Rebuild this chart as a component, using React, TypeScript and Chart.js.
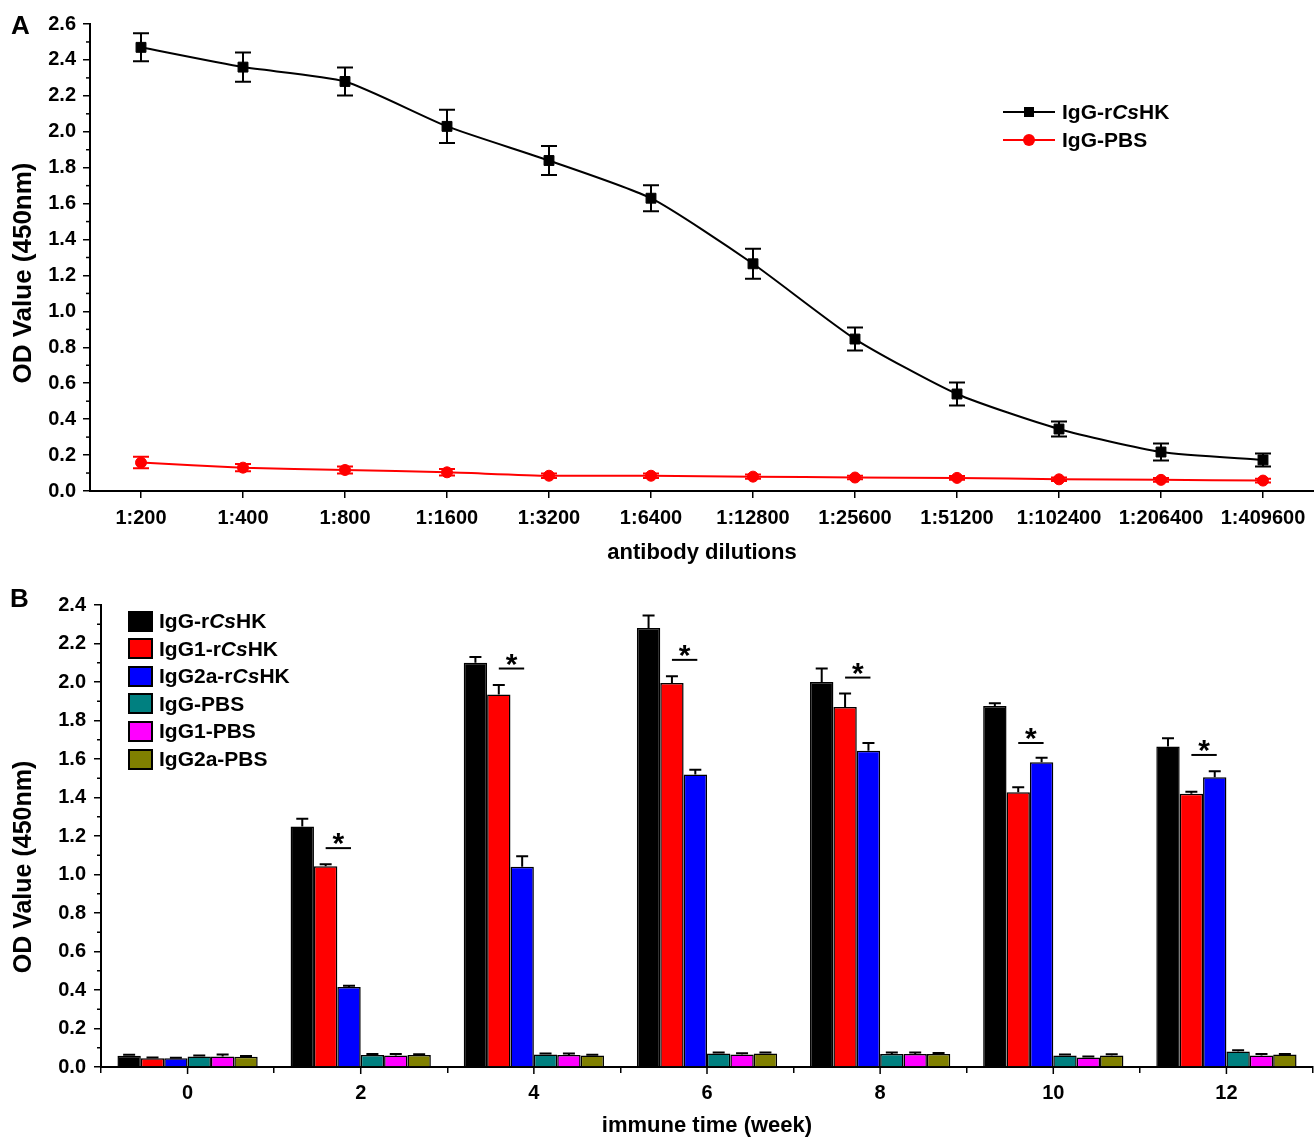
import React, { useEffect, useRef } from 'react';
import { Chart, registerables } from 'chart.js';

Chart.register(...registerables);

const FONT = "'Liberation Sans', Arial, Helvetica, sans-serif";

// ---------- Panel A data ----------
const dilutions = ['1:200', '1:400', '1:800', '1:1600', '1:3200', '1:6400', '1:12800', '1:25600', '1:51200', '1:102400', '1:206400', '1:409600'];
const igGrCsHK = [2.47, 2.36, 2.28, 2.03, 1.84, 1.63, 1.265, 0.846, 0.54, 0.345, 0.217, 0.173];
const igGrCsHKErr = [0.078, 0.081, 0.078, 0.092, 0.081, 0.072, 0.084, 0.064, 0.064, 0.042, 0.047, 0.036];
const igGPBS = [0.158, 0.13, 0.117, 0.104, 0.085, 0.085, 0.08, 0.075, 0.073, 0.065, 0.062, 0.058];
const igGPBSErr = [0.032, 0.02, 0.02, 0.018, 0.012, 0.012, 0.012, 0.01, 0.01, 0.01, 0.01, 0.01];
const lineNamesA = ['IgG-rCsHK', 'IgG-PBS'];
const lineColorsA = ['#000000', '#ff0000'];

// ---------- Panel B data ----------
const weeks = ['0', '2', '4', '6', '8', '10', '12'];
const barNames = ['IgG-rCsHK', 'IgG1-rCsHK', 'IgG2a-rCsHK', 'IgG-PBS', 'IgG1-PBS', 'IgG2a-PBS'];
const barColors = ['#000000', '#ff0000', '#0000ff', '#008080', '#ff00ff', '#808000'];
const bIgG = [0.058, 1.25, 2.1, 2.28, 2.0, 1.875, 1.665];
const bIgGErr = [0.005, 0.04, 0.03, 0.065, 0.07, 0.015, 0.043];
const bIgG1 = [0.045, 1.043, 1.935, 1.995, 1.87, 1.427, 1.42];
const bIgG1Err = [0.004, 0.01, 0.05, 0.035, 0.07, 0.026, 0.01];
const bIgG2a = [0.045, 0.416, 1.04, 1.519, 1.643, 1.583, 1.505];
const bIgG2aErr = [0.003, 0.006, 0.055, 0.025, 0.04, 0.023, 0.031];
const bIgGPBS = [0.055, 0.062, 0.065, 0.07, 0.067, 0.06, 0.08];
const bIgGPBSErr = [0.005, 0.005, 0.005, 0.005, 0.008, 0.005, 0.007];
const bIgG1PBS = [0.055, 0.06, 0.062, 0.065, 0.067, 0.05, 0.06];
const bIgG1PBSErr = [0.01, 0.008, 0.008, 0.006, 0.008, 0.005, 0.007];
const bIgG2aPBS = [0.053, 0.062, 0.06, 0.07, 0.067, 0.06, 0.065];
const bIgG2aPBSErr = [0.004, 0.004, 0.004, 0.005, 0.006, 0.006, 0.003];
const barValues = [bIgG, bIgG1, bIgG2a, bIgGPBS, bIgG1PBS, bIgG2aPBS];
const barErrors = [bIgGErr, bIgG1Err, bIgG2aErr, bIgGPBSErr, bIgG1PBSErr, bIgG2aPBSErr];
// significance bracket level (OD value) between IgG1 and IgG2a, per week
const sigLevels: (number | null)[] = [null, 1.137, 2.07, 2.115, 2.023, 1.683, 1.621];

// ---------- plugins ----------
const errorBarPlugin = {
  id: 'errorBars',
  afterDatasetsDraw(chart: any, _args: any, opts: any) {
    const { ctx } = chart;
    const y = chart.scales.y;
    chart.data.datasets.forEach((ds: any, di: number) => {
      const errs = ds.errors;
      if (!errs) return;
      const meta = chart.getDatasetMeta(di);
      ctx.save();
      ctx.strokeStyle = ds.errorColor || '#000';
      ctx.lineWidth = opts.lineWidth || 2;
      meta.data.forEach((el: any, i: number) => {
        const v = ds.data[i];
        const e = errs[i];
        const x = el.x;
        const yTop = y.getPixelForValue(v + e);
        const yBot = opts.upOnly ? y.getPixelForValue(v) : y.getPixelForValue(v - e);
        const half = opts.cap / 2;
        ctx.beginPath();
        ctx.moveTo(x, yTop);
        ctx.lineTo(x, yBot);
        ctx.moveTo(x - half, yTop);
        ctx.lineTo(x + half, yTop);
        if (!opts.upOnly) {
          ctx.moveTo(x - half, yBot);
          ctx.lineTo(x + half, yBot);
        }
        ctx.stroke();
      });
      ctx.restore();
    });
  },
};

const extraTicksPlugin = {
  id: 'extraTicks',
  afterDraw(chart: any, _args: any, opts: any) {
    const { ctx } = chart;
    const y = chart.scales.y;
    const x = chart.scales.x;
    ctx.save();
    ctx.strokeStyle = '#000';
    ctx.lineWidth = 1.5;
    for (let v = opts.minorStep; v < y.max; v += opts.minorStep * 2) {
      const py = y.getPixelForValue(v);
      ctx.beginPath();
      ctx.moveTo(y.right, py);
      ctx.lineTo(y.right - opts.minorLen, py);
      ctx.stroke();
    }
    if (opts.xCenters) {
      x.ticks.forEach((_t: any, i: number) => {
        const px = x.getPixelForTick(i);
        ctx.beginPath();
        ctx.moveTo(px, x.top);
        ctx.lineTo(px, x.top + opts.centerLen);
        ctx.stroke();
      });
    }
    ctx.restore();
  },
};

const sigPlugin = {
  id: 'sig',
  afterDatasetsDraw(chart: any, _args: any, opts: any) {
    const { ctx } = chart;
    const y = chart.scales.y;
    const mA = chart.getDatasetMeta(1);
    const mB = chart.getDatasetMeta(2);
    ctx.save();
    ctx.strokeStyle = '#000';
    ctx.fillStyle = '#000';
    ctx.lineWidth = 2;
    ctx.font = `bold 30px ${FONT}`;
    ctx.textAlign = 'center';
    ctx.textBaseline = 'alphabetic';
    (opts.levels as (number | null)[]).forEach((lv, i) => {
      if (lv == null) return;
      const x1 = mA.data[i].x;
      const x2 = mB.data[i].x + 2;
      const py = y.getPixelForValue(lv);
      ctx.beginPath();
      ctx.moveTo(x1, py);
      ctx.lineTo(x2, py);
      ctx.stroke();
      ctx.fillText('*', (x1 + x2) / 2, py + 5);
    });
    ctx.restore();
  },
};

const tickFont = { family: FONT, size: 20, weight: 'bold' as const };

function withItalicCs(name: string) {
  const parts = name.split('Cs');
  const out: any[] = [];
  parts.forEach((p, i) => {
    if (i > 0) out.push(<i key={'i' + i}>Cs</i>);
    out.push(<span key={'s' + i}>{p}</span>);
  });
  return out;
}

export default function App() {
  const refA = useRef<HTMLCanvasElement>(null);
  const refB = useRef<HTMLCanvasElement>(null);

  useEffect(() => {
    const chartA = new Chart(refA.current as HTMLCanvasElement, {
      type: 'line',
      data: {
        labels: dilutions,
        datasets: [
          {
            label: lineNamesA[0],
            data: igGrCsHK,
            errors: igGrCsHKErr,
            errorColor: lineColorsA[0],
            borderColor: lineColorsA[0],
            backgroundColor: lineColorsA[0],
            pointStyle: 'rect',
            pointRadius: 7,
            pointBorderWidth: 1,
            borderWidth: 2,
            tension: 0.2,
          } as any,
          {
            label: lineNamesA[1],
            data: igGPBS,
            errors: igGPBSErr,
            errorColor: lineColorsA[1],
            borderColor: lineColorsA[1],
            backgroundColor: lineColorsA[1],
            pointStyle: 'circle',
            pointRadius: 5.5,
            pointBorderWidth: 1,
            borderWidth: 2,
            tension: 0.2,
          } as any,
        ],
      },
      options: {
        responsive: false,
        animation: false,
        devicePixelRatio: 1,
        layout: { autoPadding: false, padding: { top: 24, left: 0, right: 0, bottom: 0 } },
        plugins: {
          legend: { display: false },
          tooltip: { enabled: false },
          errorBars: { cap: 16, lineWidth: 2, upOnly: false },
          extraTicks: { minorStep: 0.1, minorLen: 4, xCenters: false },
        } as any,
        scales: {
          x: {
            offset: true,
            grid: { offset: false, drawOnChartArea: false, drawTicks: true, tickLength: 7, color: '#000', lineWidth: 1.5 },
            border: { color: '#000', width: 2 },
            ticks: { color: '#000', font: tickFont, padding: 8, maxRotation: 0, autoSkip: false },
            title: { display: true, text: 'antibody dilutions', color: '#000', font: { family: FONT, size: 22, weight: 'bold' }, padding: { top: 0, bottom: 9 } },
            afterFit: (s: any) => { s.height = 84; s.paddingLeft = 0; s.paddingRight = 0; },
          },
          y: {
            min: 0,
            max: 2.6,
            grid: { drawOnChartArea: false, drawTicks: true, tickLength: 7, color: '#000', lineWidth: 1.5 },
            border: { color: '#000', width: 2 },
            ticks: { stepSize: 0.2, color: '#000', font: tickFont, padding: 7, callback: (v: any) => Number(v).toFixed(1) },
            afterFit: (s: any) => { s.width = 90; },
          },
        },
      },
      plugins: [errorBarPlugin, extraTicksPlugin],
    });

    const chartB = new Chart(refB.current as HTMLCanvasElement, {
      type: 'bar',
      data: {
        labels: weeks,
        datasets: barNames.map((n, i) => ({
          label: n,
          data: barValues[i],
          errors: barErrors[i],
          errorColor: '#000',
          backgroundColor: barColors[i],
          borderColor: '#000',
          borderWidth: 1.5,
          borderSkipped: 'start',
          categoryPercentage: 0.81,
          barPercentage: 1,
        })) as any,
      },
      options: {
        responsive: false,
        animation: false,
        devicePixelRatio: 1,
        layout: { autoPadding: false, padding: { top: 30, left: 0, right: 1, bottom: 0 } },
        plugins: {
          legend: { display: false },
          tooltip: { enabled: false },
          errorBars: { cap: 12, lineWidth: 2, upOnly: true },
          extraTicks: { minorStep: 0.1, minorLen: 4, xCenters: true, centerLen: 7 },
          sig: { levels: sigLevels },
        } as any,
        scales: {
          x: {
            offset: true,
            grid: { offset: true, drawOnChartArea: false, drawTicks: true, tickLength: 6, color: '#000', lineWidth: 1.5 },
            border: { color: '#000', width: 2 },
            ticks: { color: '#000', font: tickFont, padding: 8, maxRotation: 0, autoSkip: false },
            title: { display: true, text: 'immune time (week)', color: '#000', font: { family: FONT, size: 22, weight: 'bold' }, padding: { top: 0, bottom: 0 } },
            afterFit: (s: any) => { s.height = 72; s.paddingLeft = 0; s.paddingRight = 0; },
          },
          y: {
            min: 0,
            max: 2.4,
            grid: { drawOnChartArea: false, drawTicks: true, tickLength: 7, color: '#000', lineWidth: 1.5 },
            border: { color: '#000', width: 2 },
            ticks: { stepSize: 0.2, color: '#000', font: tickFont, padding: 8, callback: (v: any) => Number(v).toFixed(1) },
            afterFit: (s: any) => { s.width = 101; },
          },
        },
      },
      plugins: [errorBarPlugin, extraTicksPlugin, sigPlugin],
    });

    return () => {
      chartA.destroy();
      chartB.destroy();
    };
  }, []);

  const legendText: React.CSSProperties = {
    position: 'absolute',
    fontFamily: FONT,
    fontWeight: 'bold',
    fontSize: 21,
    lineHeight: '20px',
    height: 20,
    whiteSpace: 'nowrap',
    color: '#000',
  };

  const yTitle = (cx: number, cy: number, size: number): React.CSSProperties => ({
    position: 'absolute',
    left: cx - 150,
    top: cy - 14,
    width: 300,
    height: 28,
    lineHeight: '28px',
    textAlign: 'center',
    transform: 'rotate(-90deg)',
    fontFamily: FONT,
    fontWeight: 'bold',
    fontSize: size,
    color: '#000',
    whiteSpace: 'nowrap',
  });

  const rowA = [112, 140];
  const rowB = barNames.map((_, k) => 621 + k * 27.6);

  return (
    <div style={{ position: 'absolute', left: 0, top: 0, width: 1314, height: 1139, background: '#fff', overflow: 'hidden' }}>
      <canvas ref={refA} width={1314} height={575} style={{ position: 'absolute', left: 0, top: 0, width: 1314, height: 575 }} />
      <canvas ref={refB} width={1314} height={564} style={{ position: 'absolute', left: 0, top: 575, width: 1314, height: 564 }} />

      <div style={{ position: 'absolute', left: 11, top: 12, fontFamily: FONT, fontWeight: 'bold', fontSize: 26, lineHeight: '26px', color: '#000' }}>A</div>
      <div style={{ position: 'absolute', left: 10, top: 585, fontFamily: FONT, fontWeight: 'bold', fontSize: 26, lineHeight: '26px', color: '#000' }}>B</div>

      <div style={yTitle(22, 273, 26)}>OD Value (450nm)</div>
      <div style={yTitle(22, 867, 25)}>OD Value (450nm)</div>

      {lineNamesA.map((n, i) => (
        <React.Fragment key={n}>
          <div style={{ position: 'absolute', left: 1003, top: rowA[i] - 1, width: 52, height: 2, background: lineColorsA[i] }} />
          {i === 0 ? (
            <div style={{ position: 'absolute', left: 1024, top: rowA[i] - 5, width: 10, height: 10, background: lineColorsA[i] }} />
          ) : (
            <div style={{ position: 'absolute', left: 1023, top: rowA[i] - 6, width: 12, height: 12, borderRadius: 6, background: lineColorsA[i] }} />
          )}
          <div style={{ ...legendText, left: 1062, top: rowA[i] - 10 }}>{withItalicCs(n)}</div>
        </React.Fragment>
      ))}

      {barNames.map((n, i) => (
        <React.Fragment key={n}>
          <div style={{ position: 'absolute', left: 128, top: rowB[i] - 10.5, width: 25, height: 21, boxSizing: 'border-box', border: '2px solid #000', background: barColors[i] }} />
          <div style={{ ...legendText, left: 159, top: rowB[i] - 10 }}>{withItalicCs(n)}</div>
        </React.Fragment>
      ))}
    </div>
  );
}
